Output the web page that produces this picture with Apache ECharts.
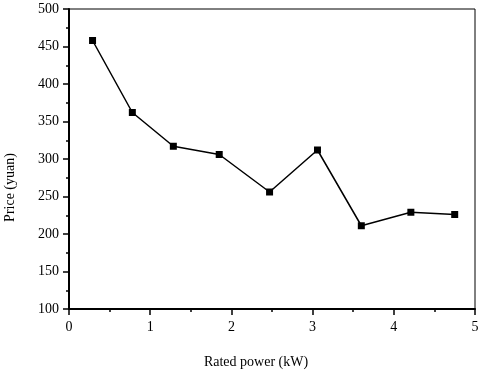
<!DOCTYPE html>
<html>
<head>
<meta charset="utf-8">
<script src="https://cdn.jsdelivr.net/npm/echarts@6/dist/echarts.min.js"></script>
<style>
  html, body { margin: 0; padding: 0; background: #fff; }
  #chart { width: 480px; height: 371px; }
</style>
</head>
<body>
<div id="chart"></div>
<script>
// rated power (kW) and price (yuan)
const power = [0.29, 0.78, 1.285, 1.85, 2.47, 3.06, 3.60, 4.21, 4.75];
const price = [458, 362, 317, 306, 256, 312, 211, 229, 226];

const font = 'Liberation Serif';
const chart = echarts.init(document.getElementById('chart'));

const option = {
  animation: false,
  grid: {
    left: 69,
    right: 5,
    top: 9,
    bottom: 62,
    outerBoundsMode: 'none',
    containLabel: false,
    show: true,
    borderColor: '#000',
    borderWidth: 1
  },
  xAxis: {
    type: 'value',
    min: 0,
    max: 5,
    interval: 1,
    name: 'Rated power (kW)',
    nameLocation: 'middle',
    nameGap: 46,
    nameTextStyle: { color: '#000', fontFamily: font, fontSize: 14, padding: [0, 32, 0, 0] },
    axisLine: { lineStyle: { color: '#000', width: 2 } },
    axisTick: { inside: false, length: 6, lineStyle: { color: '#000', width: 1.5 } },
    minorTick: { show: true, splitNumber: 2, length: 3, lineStyle: { color: '#000', width: 1.5 } },
    axisLabel: { color: '#000', fontFamily: font, fontSize: 14, margin: 11 },
    splitLine: { show: false }
  },
  yAxis: {
    type: 'value',
    min: 100,
    max: 500,
    interval: 50,
    name: 'Price (yuan)',
    nameLocation: 'middle',
    nameGap: 52,
    // shift the title down along the axis, as in the original
    nameTextStyle: { color: '#000', fontFamily: font, fontSize: 14, padding: [0, 57, 0, 0] },
    axisLine: { lineStyle: { color: '#000', width: 2 } },
    axisTick: { inside: false, length: 6, lineStyle: { color: '#000', width: 1.5 } },
    minorTick: { show: true, splitNumber: 2, length: 3, lineStyle: { color: '#000', width: 1.5 } },
    axisLabel: { color: '#000', fontFamily: font, fontSize: 14, margin: 10 },
    splitLine: { show: false }
  },
  series: [{
    type: 'line',
    data: power.map((p, i) => [p, price[i]]),
    symbol: 'rect',
    symbolSize: 7,
    lineStyle: { color: '#000', width: 1.5 },
    itemStyle: { color: '#000' }
  }]
};

chart.setOption(option);
</script>
</body>
</html>
